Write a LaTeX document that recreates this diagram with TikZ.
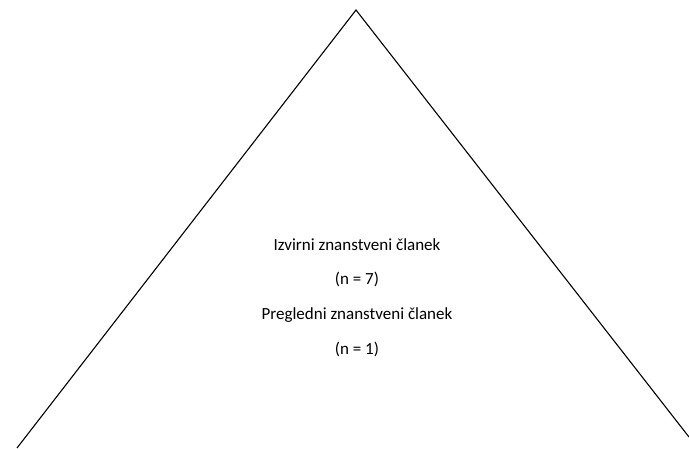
\documentclass[tikz,border=0pt]{standalone}
\usepackage{fontspec}
\setmainfont{Carlito}
\begin{document}
\begin{tikzpicture}[x=1pt,y=-1pt,
  lbl/.style={anchor=base,inner sep=0pt,font=\fontsize{17}{20}\selectfont},
  edge/.style={draw=black,line width=1.1pt}]
\useasboundingbox (0,0) rectangle (689,448);
\coordinate (apex) at (356,10);
\coordinate (bl) at (17,448);
\coordinate (br) at (689,437);
\draw[edge] (bl) -- (apex) -- (br);
\node[lbl] (t1) at (357,250) {Izvirni znanstveni članek};
\node[lbl] (t2) at (357,284) {(n = 7)};
\node[lbl] (t3) at (357,319) {Pregledni znanstveni članek};
\node[lbl] (t4) at (357,354) {(n = 1)};
\end{tikzpicture}
\end{document}
